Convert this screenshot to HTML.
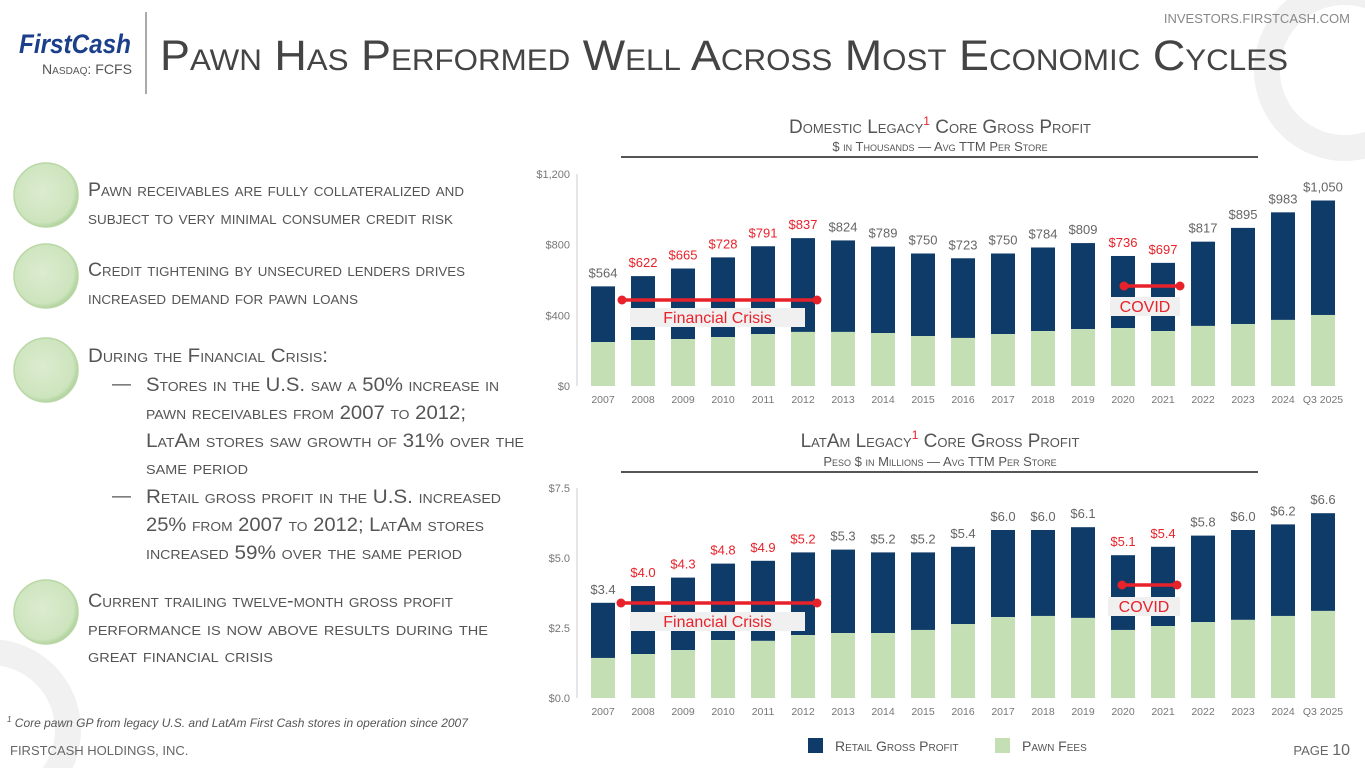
<!DOCTYPE html>
<html><head><meta charset="utf-8"><style>
html,body{margin:0;padding:0;background:#fff;width:1365px;height:768px;overflow:hidden;}
svg{display:block;font-family:"Liberation Sans",sans-serif;}
.sc{font-variant:small-caps;}
</style></head><body>
<svg id="page" width="1365" height="768" viewBox="0 0 1365 768">
<defs>
<radialGradient id="cg" cx="45%" cy="45%" r="60%"><stop offset="0" stop-color="#dcecd0"/><stop offset="0.8" stop-color="#cde4bd"/><stop offset="1" stop-color="#9fc98a"/></radialGradient>
</defs>
<path d="M1286.9,0 A91,91 0 0 0 1365,158.8 L1365,0 Z M1365,8.2 A65,65 0 1 0 1365,131.8 Z" fill="#f1f1f1" fill-rule="evenodd"/>
<path d="M0,639.6 A91,91 0 0 1 72.7,768 L42.7,768 A65,65 0 0 0 0,665.8 Z" fill="#f1f1f1"/>

<g>
<text x="19" y="53" font-size="27" font-weight="bold" font-style="italic" fill="#1c3f8c" textLength="112" lengthAdjust="spacingAndGlyphs">FirstCash</text>
<text x="42" y="74" font-size="14" fill="#555" class="sc" textLength="90" lengthAdjust="spacingAndGlyphs">Nasdaq: FCFS</text>
</g>
<line x1="146" y1="12" x2="146" y2="94" stroke="#555" stroke-width="1"/>
<text x="160" y="70" font-size="43" fill="#444" class="sc" textLength="1128" lengthAdjust="spacingAndGlyphs">Pawn Has Performed Well Across Most Economic Cycles</text>
<text x="1350" y="23" font-size="13" fill="#888" text-anchor="end">INVESTORS.FIRSTCASH.COM</text>

<g fill="#555" font-size="19">
<circle cx="46" cy="195" r="32" fill="url(#cg)" stroke="#b9d8a6" stroke-width="1.5"/>
<circle cx="46" cy="276" r="32" fill="url(#cg)" stroke="#b9d8a6" stroke-width="1.5"/>
<circle cx="46" cy="370" r="32" fill="url(#cg)" stroke="#b9d8a6" stroke-width="1.5"/>
<circle cx="46" cy="612" r="32" fill="url(#cg)" stroke="#b9d8a6" stroke-width="1.5"/>
<text class="sc" x="88" y="196" textLength="376" lengthAdjust="spacingAndGlyphs">Pawn receivables are fully collateralized and</text>
<text class="sc" x="88" y="224" textLength="365" lengthAdjust="spacingAndGlyphs">subject to very minimal consumer credit risk</text>
<text class="sc" x="88" y="276" textLength="377" lengthAdjust="spacingAndGlyphs">Credit tightening by unsecured lenders drives</text>
<text class="sc" x="88" y="304" textLength="270" lengthAdjust="spacingAndGlyphs">increased demand for pawn loans</text>
<text class="sc" x="88" y="362" textLength="240" lengthAdjust="spacingAndGlyphs">During the Financial Crisis:</text>
<text x="112" y="390">—</text>
<text class="sc" x="146" y="391" textLength="353" lengthAdjust="spacingAndGlyphs">Stores in the U.S. saw a 50% increase in</text>
<text class="sc" x="146" y="419" textLength="320" lengthAdjust="spacingAndGlyphs">pawn receivables from 2007 to 2012;</text>
<text class="sc" x="146" y="447" textLength="378" lengthAdjust="spacingAndGlyphs">LatAm stores saw growth of 31% over the</text>
<text class="sc" x="146" y="474" textLength="102" lengthAdjust="spacingAndGlyphs">same period</text>
<text x="112" y="502">—</text>
<text class="sc" x="146" y="503" textLength="355" lengthAdjust="spacingAndGlyphs">Retail gross profit in the U.S. increased</text>
<text class="sc" x="146" y="531" textLength="338" lengthAdjust="spacingAndGlyphs">25% from 2007 to 2012; LatAm stores</text>
<text class="sc" x="146" y="559" textLength="316" lengthAdjust="spacingAndGlyphs">increased 59% over the same period</text>
<text class="sc" x="88" y="607" textLength="365" lengthAdjust="spacingAndGlyphs">Current trailing twelve-month gross profit</text>
<text class="sc" x="88" y="635" textLength="400" lengthAdjust="spacingAndGlyphs">performance is now above results during the</text>
<text class="sc" x="88" y="662" textLength="185" lengthAdjust="spacingAndGlyphs">great financial crisis</text>
</g>

<text x="7" y="727" font-size="12" font-style="italic" fill="#555"><tspan font-size="8" dy="-5">1</tspan><tspan dy="5"> Core pawn GP from legacy U.S. and LatAm First Cash stores in operation since 2007</tspan></text>
<text x="10" y="755" font-size="13" fill="#666">FIRSTCASH HOLDINGS, INC.</text>
<text x="1350" y="755" font-size="13" fill="#666" text-anchor="end">PAGE <tspan font-size="16">10</tspan></text>

<g fill="#555">
<text class="sc" x="940" y="133" font-size="19" text-anchor="middle">Domestic Legacy<tspan fill="#e8222a" font-size="12" dy="-8">1</tspan><tspan dy="8"> Core Gross Profit</tspan></text>
<text class="sc" x="940" y="151" font-size="13" text-anchor="middle">$ in Thousands — Avg TTM Per Store</text>
<line x1="621" y1="157" x2="1258" y2="157" stroke="#555" stroke-width="2"/>
<text class="sc" x="940" y="447" font-size="19" text-anchor="middle">LatAm Legacy<tspan fill="#e8222a" font-size="12" dy="-8">1</tspan><tspan dy="8"> Core Gross Profit</tspan></text>
<text class="sc" x="940" y="466" font-size="13" text-anchor="middle">Peso $ in Millions — Avg TTM Per Store</text>
<line x1="621" y1="472" x2="1258" y2="472" stroke="#555" stroke-width="2"/>
</g>

<g id="chart1"></g>
<g id="chart2"></g>

<g>
<rect x="808" y="738" width="15" height="15" fill="#0f3b68"/>
<text class="sc" x="835" y="751" font-size="14" fill="#555">Retail Gross Profit</text>
<rect x="995" y="738" width="15" height="15" fill="#c5dfb5"/>
<text class="sc" x="1022" y="751" font-size="14" fill="#555">Pawn Fees</text>
</g>
</svg>
<script>
const categories = ["2007","2008","2009","2010","2011","2012","2013","2014","2015","2016","2017","2018","2019","2020","2021","2022","2023","2024","Q3 2025"];
const domTotal = [564,622,665,728,791,837,824,789,750,723,750,784,809,736,697,817,895,983,1050];
const domPawn = [249,260,266,277,294,306,306,300,283,272,294,311,322,328,311,340,351,374,402];
const domLabels = ["$564","$622","$665","$728","$791","$837","$824","$789","$750","$723","$750","$784","$809","$736","$697","$817","$895","$983","$1,050"];
const domTicks = [0,400,800,1200];
const domTickLabels = ["$0","$400","$800","$1,200"];
const latTotal = [3.4,4.0,4.3,4.8,4.9,5.2,5.3,5.2,5.2,5.4,6.0,6.0,6.1,5.1,5.4,5.8,6.0,6.2,6.6];
const latPawn = [1.43,1.57,1.71,2.07,2.04,2.25,2.32,2.32,2.43,2.64,2.89,2.93,2.86,2.43,2.57,2.71,2.79,2.93,3.11];
const latLabels = ["$3.4","$4.0","$4.3","$4.8","$4.9","$5.2","$5.3","$5.2","$5.2","$5.4","$6.0","$6.0","$6.1","$5.1","$5.4","$5.8","$6.0","$6.2","$6.6"];
const latTicks = [0,2.5,5,7.5];
const latTickLabels = ["$0.0","$2.5","$5.0","$7.5"];
const highlighted = [1,2,3,4,5,13,14];

const NS="http://www.w3.org/2000/svg";
function mk(parent,tag,attrs,txt){const e=document.createElementNS(NS,tag);for(const k in attrs)e.setAttribute(k,attrs[k]);if(txt!==undefined)e.textContent=txt;parent.appendChild(e);return e;}

function drawChart(gid,total,pawn,labels,ticks,tickLabels,yBase,yTop,maxV,crisis,covid,prefix){
  const g=document.getElementById(gid);
  const y=v=>yBase-(v/maxV)*(yBase-yTop);
  const x=i=>603+i*40;
  const bw=24;
  const ax=mk(g,'line',{x1:577,y1:yTop,x2:577,y2:yBase,stroke:'#ccc','stroke-width':1});
  
  
  ticks.forEach((t,i)=>{
    const tl=mk(g,'text',{x:570,y:y(t)+4,'font-size':11,fill:'#777','text-anchor':'end'},tickLabels[i]);
    
    
  });
  categories.forEach((c,i)=>{
    const r=mk(g,'rect',{x:x(i)-bw/2,y:y(total[i]),width:bw,height:y(pawn[i])-y(total[i]),fill:'#0f3b68'});
    
    
    const p=mk(g,'rect',{x:x(i)-bw/2,y:y(pawn[i]),width:bw,height:yBase-y(pawn[i]),fill:'#c5dfb5'});
    
    
    const red=highlighted.indexOf(i)>=0;
    const vl=mk(g,'text',{x:x(i),y:y(total[i])-9,'font-size':13,fill:red?'#e8222a':'#666','text-anchor':'middle'},labels[i]);
    
    
    const xl=mk(g,'text',{x:x(i),y:yBase+17,'font-size':10.5,fill:'#777','text-anchor':'middle'},c);
    
    
  });
  [[crisis,'Financial Crisis','crisis'],[covid,'COVID','covid']].forEach(([m,txt,nm])=>{
    const gg=mk(g,'g',{});
    
    
    mk(gg,'rect',{x:m.bx,y:m.by,width:m.bw,height:19,fill:'#f0f0f0'});
    mk(gg,'line',{x1:m.x1,y1:m.ly,x2:m.x2,y2:m.ly,stroke:'#e8222a','stroke-width':3.5});
    mk(gg,'circle',{cx:m.x1,cy:m.ly,r:4.5,fill:'#e8222a'});
    mk(gg,'circle',{cx:m.x2,cy:m.ly,r:4.5,fill:'#e8222a'});
    mk(gg,'text',{x:m.bx+m.bw/2,y:m.by+15,'font-size':16,fill:'#e8222a','text-anchor':'middle'},txt);
  });
}
drawChart('chart1',domTotal,domPawn,domLabels,domTicks,domTickLabels,386,174,1200,
 {x1:622,x2:817,ly:300,bx:630,by:308,bw:175},{x1:1124,x2:1180,ly:286,bx:1110,by:297,bw:70},'domestic');
drawChart('chart2',latTotal,latPawn,latLabels,latTicks,latTickLabels,698,488,7.5,
 {x1:621,x2:817,ly:603,bx:630,by:612,bw:175},{x1:1122,x2:1177,ly:585,bx:1108,by:597,bw:72},'latam');
</script>
</body></html>
